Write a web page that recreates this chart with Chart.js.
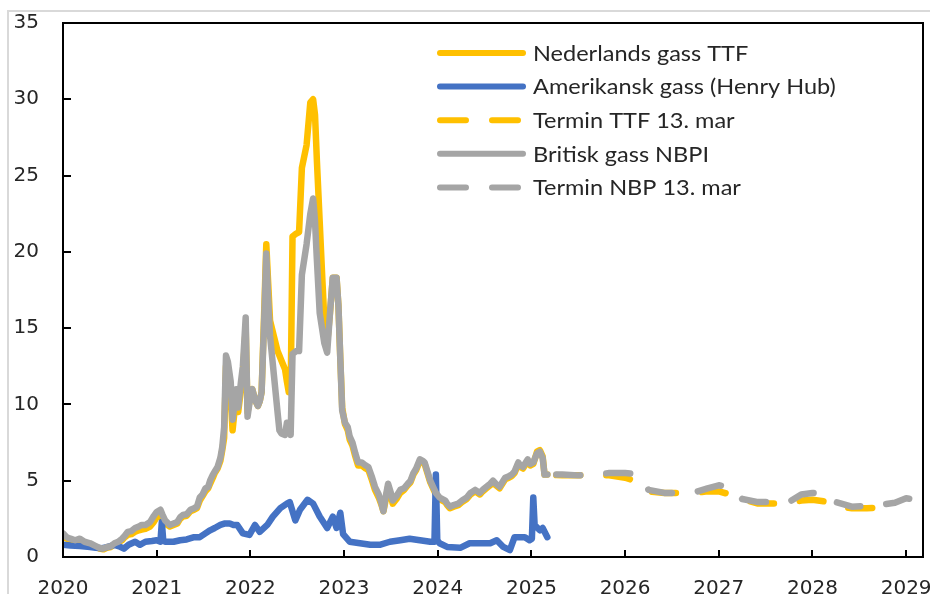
<!DOCTYPE html>
<html>
<head>
<meta charset="utf-8">
<script src="https://cdn.jsdelivr.net/npm/chart.js@4/dist/chart.umd.min.js"></script>
<style>
  html, body { margin: 0; padding: 0; background: #fff; }
  #wrap { position: relative; width: 930px; height: 594px; overflow: hidden; }
  #frame { position: absolute; left: 7px; top: 10px; width: 1000px; height: 1000px;
           border-left: 2px solid #d9d9d9; border-top: 2px solid #d9d9d9; }
  canvas { position: absolute; left: 0; top: 0; }
</style>
</head>
<body>
<div id="wrap">
  <div id="frame"></div>
  <canvas id="c" width="930" height="594"></canvas>
</div>
<script>
// ---- Data (decimal years) ----
const seriesNames = ["Nederlands gass TTF", "Amerikansk gass (Henry Hub)", "Termin TTF 13. mar", "Britisk gass NBPI", "Termin NBP 13. mar"];
const xTickYears = [2020, 2021, 2022, 2023, 2024, 2025, 2026, 2027, 2028, 2029];
const yTickValues = [0, 5, 10, 15, 20, 25, 30, 35];

const histDates = [
  2020.00, 2020.04, 2020.08, 2020.13, 2020.18, 2020.23, 2020.29, 2020.34, 2020.39, 2020.43,
  2020.47, 2020.51, 2020.55, 2020.59, 2020.63, 2020.66, 2020.69, 2020.73, 2020.77, 2020.81,
  2020.84, 2020.88, 2020.93, 2020.97, 2021.00, 2021.04, 2021.06, 2021.09, 2021.14, 2021.18,
  2021.22, 2021.25, 2021.28, 2021.32, 2021.36, 2021.40, 2021.43, 2021.46, 2021.49, 2021.52,
  2021.55, 2021.57, 2021.60, 2021.62, 2021.65, 2021.68, 2021.70, 2021.72, 2021.74, 2021.76,
  2021.79, 2021.81, 2021.83, 2021.85, 2021.87, 2021.90, 2021.92, 2021.95, 2021.97, 2022.00,
  2022.02, 2022.05, 2022.08, 2022.10, 2022.12, 2022.15, 2022.17, 2022.19, 2022.21, 2022.25,
  2022.29, 2022.31, 2022.33, 2022.37, 2022.39, 2022.41, 2022.43, 2022.45, 2022.49, 2022.52,
  2022.55, 2022.60, 2022.64, 2022.67, 2022.69, 2022.71, 2022.74, 2022.77, 2022.79, 2022.82,
  2022.85, 2022.88, 2022.92, 2022.94, 2022.96, 2022.98, 2023.01, 2023.04, 2023.06, 2023.09,
  2023.12, 2023.15, 2023.19, 2023.23, 2023.26, 2023.30, 2023.33, 2023.37, 2023.40, 2023.42,
  2023.44, 2023.47, 2023.50, 2023.52, 2023.56, 2023.60, 2023.64, 2023.68, 2023.71, 2023.74,
  2023.77, 2023.81, 2023.84, 2023.86, 2023.89, 2023.92, 2023.95, 2023.98, 2024.02, 2024.05,
  2024.08, 2024.10, 2024.13, 2024.17, 2024.22, 2024.26, 2024.31, 2024.35, 2024.40, 2024.45,
  2024.48, 2024.52, 2024.56, 2024.59, 2024.62, 2024.66, 2024.69, 2024.72, 2024.76, 2024.79,
  2024.82, 2024.86, 2024.88, 2024.91, 2024.94, 2024.96, 2024.99, 2025.02, 2025.06, 2025.09,
  2025.12, 2025.14, 2025.17
];
const nbpHist = [
  1.55, 1.3, 1.2, 1.1, 1.2, 1.0, 0.9, 0.75, 0.6, 0.55,
  0.66, 0.7, 0.9, 1.0, 1.2, 1.4, 1.65, 1.7, 1.9, 2.0,
  2.1, 2.1, 2.3, 2.7, 2.95, 3.1, 2.8, 2.4, 2.1, 2.2,
  2.3, 2.6, 2.75, 2.8, 3.1, 3.2, 3.3, 3.9, 4.1, 4.5,
  4.6, 5.0, 5.4, 5.6, 5.9, 6.5, 7.2, 8.5, 13.2, 12.8,
  11.5, 9.0, 10.0, 11.0, 9.8, 11.5, 12.5, 15.7, 9.2, 10.5,
  11.0, 10.3, 9.9, 10.2, 10.8, 16.0, 19.9, 17.0, 14.5, 12.0,
  9.5, 8.3, 8.1, 8.0, 8.8, 8.5, 8.0, 13.3, 13.5, 13.5,
  18.5, 20.5, 22.5, 23.5, 22.0, 19.5, 16.0, 14.8, 14.0, 13.4,
  16.0, 18.3, 18.3, 16.5, 13.0, 9.6, 8.8, 8.5, 7.9, 7.5,
  6.8, 6.2, 6.2, 6.0, 5.9, 5.2, 4.6, 4.1, 3.5, 3.0,
  3.8, 4.8, 4.2, 3.7, 4.0, 4.4, 4.5, 4.8, 5.0, 5.5,
  5.8, 6.4, 6.3, 6.2, 5.6, 5.0, 4.6, 4.2, 3.9, 3.8,
  3.7, 3.5, 3.3, 3.4, 3.5, 3.7, 3.9, 4.2, 4.4, 4.2,
  4.4, 4.6, 4.8, 5.0, 4.8, 4.6, 4.9, 5.2, 5.3, 5.4,
  5.6, 6.2, 6.0, 5.9, 6.2, 6.4, 6.1, 6.2, 6.8, 6.9,
  6.5, 5.4, 5.4
];
const ttfHist = [
  1.35, 1.2, 1.1, 1.0, 1.1, 0.9, 0.85, 0.7, 0.55, 0.5,
  0.6, 0.65, 0.85, 0.95, 1.1, 1.3, 1.45, 1.5, 1.65, 1.75,
  1.8, 1.85, 2.0, 2.3, 2.6, 2.7, 2.5, 2.2, 2.0, 2.1,
  2.2, 2.5, 2.65, 2.7, 3.0, 3.1, 3.2, 3.7, 4.0, 4.3,
  4.5, 4.8, 5.2, 5.5, 5.8, 6.3, 7.0, 7.8, 12.5, 12.0,
  10.5, 8.3, 9.5, 10.5, 9.5, 11.0, 12.0, 15.0, 9.5, 10.5,
  11.0, 10.3, 9.9, 10.2, 10.8, 16.5, 20.5, 18.0, 15.5, 14.5,
  13.5, 13.2, 12.9, 12.3, 11.5, 10.8, 10.8, 21.0, 21.2, 21.3,
  25.5, 27.0, 29.8, 30.0, 29.0, 26.0, 22.0, 18.0, 15.5, 14.0,
  16.0, 18.3, 18.3, 16.5, 13.0, 9.8, 8.7, 8.3, 7.7, 7.3,
  6.6, 6.0, 6.0, 5.8, 5.7, 5.0, 4.4, 3.9, 3.4, 3.0,
  3.6, 4.6, 4.0, 3.5, 3.8, 4.2, 4.4, 4.7, 4.9, 5.4,
  5.7, 6.3, 6.2, 6.1, 5.5, 4.9, 4.5, 4.1, 3.8, 3.7,
  3.6, 3.4, 3.2, 3.3, 3.4, 3.6, 3.8, 4.1, 4.3, 4.1,
  4.3, 4.5, 4.7, 4.9, 4.7, 4.5, 4.8, 5.1, 5.2, 5.3,
  5.5, 6.1, 5.9, 5.8, 6.1, 6.3, 6.0, 6.1, 6.9, 7.0,
  6.6, 5.4, 5.4
];

const hhDates = [
  2020.00, 2020.08, 2020.18, 2020.29, 2020.35, 2020.42, 2020.47, 2020.55, 2020.60, 2020.65,
  2020.70, 2020.77, 2020.82, 2020.88, 2020.95, 2021.00, 2021.04, 2021.055, 2021.07, 2021.09,
  2021.18, 2021.25, 2021.32, 2021.40, 2021.46, 2021.52, 2021.57, 2021.62, 2021.68, 2021.73,
  2021.78, 2021.82, 2021.86, 2021.92, 2021.99, 2022.05, 2022.10, 2022.18, 2022.24, 2022.32,
  2022.39, 2022.42, 2022.48, 2022.53, 2022.61, 2022.67, 2022.74, 2022.82, 2022.88, 2022.92,
  2022.96, 2022.99, 2023.06, 2023.17, 2023.28, 2023.38, 2023.49, 2023.60, 2023.70, 2023.81,
  2023.92, 2023.965, 2023.98, 2023.995, 2024.02, 2024.10, 2024.24, 2024.34, 2024.45, 2024.56,
  2024.63, 2024.70, 2024.77, 2024.82, 2024.93, 2024.98, 2025.005, 2025.02, 2025.035, 2025.05,
  2025.09, 2025.12, 2025.17
];
const hhValues = [
  0.8, 0.75, 0.72, 0.66, 0.6, 0.58, 0.65, 0.8, 0.7, 0.55,
  0.8, 1.0, 0.8, 1.0, 1.05, 1.1, 1.0, 2.3, 1.1, 1.0,
  1.0, 1.1, 1.15, 1.3, 1.3, 1.55, 1.75, 1.9, 2.1, 2.2,
  2.2, 2.1, 2.1, 1.55, 1.45, 2.1, 1.65, 2.1, 2.65, 3.2,
  3.5, 3.6, 2.4, 3.1, 3.75, 3.5, 2.65, 1.9, 2.65, 1.9,
  2.9, 1.5, 1.0, 0.9, 0.8, 0.8, 1.0, 1.1, 1.2, 1.1,
  1.0, 1.0, 5.4, 1.1, 0.9, 0.66, 0.6, 0.9, 0.9, 0.9,
  1.1, 0.66, 0.45, 1.3, 1.3, 1.1, 1.2, 3.9, 2.0, 2.0,
  1.75, 1.9, 1.3
];

const fwdDates = [
  2025.17, 2025.33, 2025.50, 2025.67, 2025.83, 2026.00, 2026.12, 2026.25, 2026.42, 2026.58,
  2026.75, 2026.88, 2027.00, 2027.12, 2027.25, 2027.42, 2027.58, 2027.75, 2027.88, 2028.00,
  2028.12, 2028.25, 2028.42, 2028.58, 2028.75, 2028.88, 2029.00, 2029.18
];
const nbpFwd = [
  5.4, 5.4, 5.35, 5.4, 5.5, 5.5, 5.45, 4.4, 4.2, 4.2,
  4.25, 4.5, 4.7, 4.55, 3.8, 3.6, 3.6, 3.6, 4.1, 4.2,
  4.15, 3.6, 3.3, 3.35, 3.45, 3.55, 3.85, 3.7
];
const ttfFwd = [
  5.4, 5.35, 5.35, 5.35, 5.35, 5.2, 4.95, 4.3, 4.2, 4.2,
  4.2, 4.3, 4.3, 4.1, 3.8, 3.5, 3.5, 3.5, 3.7, 3.75,
  3.65, 3.3, 3.2, 3.2, 3.25, 3.35
];

const colTTF = "#FFC000", colHH = "#4472C4", colNBP = "#A5A5A5";
const textCol = "#262626";

function pts(xs, ys) { return ys.map((y, i) => ({ x: xs[i], y: y })); }

const DASH = [24, 26];
const DASH_OFFSET = 41;
const LW = 6.5;

const base = { pointRadius: 0, borderWidth: LW, tension: 0, borderJoinStyle: "round", borderCapStyle: "round", fill: false };

const frameAndTicks = {
  id: "frameAndTicks",
  afterDatasetsDraw(chart) {
    const ctx = chart.ctx, a = chart.chartArea;
    const xs = chart.scales.x, ys = chart.scales.y;
    ctx.save();
    ctx.strokeStyle = "#000";
    ctx.lineWidth = 2;
    ctx.strokeRect(a.left, a.top, a.right - a.left, a.bottom - a.top);
    ctx.beginPath();
    xTickYears.forEach(v => {
      const px = Math.round(xs.getPixelForValue(v));
      ctx.moveTo(px, a.bottom); ctx.lineTo(px, a.bottom - 7);
    });
    yTickValues.forEach(v => {
      const py = Math.round(ys.getPixelForValue(v));
      ctx.moveTo(a.left, py); ctx.lineTo(a.left + 8, py);
    });
    ctx.stroke();

    // legend
    const items = [
      { label: seriesNames[0], color: colTTF, dash: false },
      { label: seriesNames[1], color: colHH, dash: false },
      { label: seriesNames[2], color: colTTF, dash: true },
      { label: seriesNames[3], color: colNBP, dash: false },
      { label: seriesNames[4], color: colNBP, dash: true }
    ];
    const lx0 = 440, lx1 = 523, tx = 533, y0 = 53, dy = 33.6;
    ctx.textBaseline = "middle";
    ctx.textAlign = "left";
    items.forEach((it, i) => {
      const y = y0 + i * dy;
      ctx.beginPath();
      ctx.strokeStyle = it.color;
      ctx.lineWidth = 6;
      ctx.lineCap = "round";
      ctx.setLineDash(it.dash ? [26, 26] : []);
      ctx.moveTo(lx0, y); ctx.lineTo(lx1, y);
      ctx.stroke();
      ctx.setLineDash([]);
      ctx.save();
      ctx.translate(tx, y + 1);
      ctx.scale(1.12, 1);
      ctx.font = "21px Lato";
      ctx.fillStyle = textCol;
      ctx.fillText(it.label, 0, 0);
      ctx.restore();
    });
    ctx.restore();
  }
};

new Chart(document.getElementById("c"), {
  type: "line",
  data: {
    datasets: [
      Object.assign({ label: seriesNames[3], data: pts(histDates, nbpHist), borderColor: colNBP, order: 1 }, base),
      Object.assign({ label: seriesNames[4], data: pts(fwdDates, nbpFwd), borderColor: colNBP, borderDash: DASH, borderDashOffset: DASH_OFFSET, order: 2 }, base),
      Object.assign({ label: seriesNames[1], data: pts(hhDates, hhValues), borderColor: colHH, order: 3 }, base),
      Object.assign({ label: seriesNames[0], data: pts(histDates, ttfHist), borderColor: colTTF, order: 4 }, base),
      Object.assign({ label: seriesNames[2], data: pts(fwdDates, ttfFwd), borderColor: colTTF, borderDash: DASH, borderDashOffset: DASH_OFFSET, order: 5 }, base)
    ]
  },
  options: {
    responsive: false,
    devicePixelRatio: 1,
    animation: false,
    layout: { padding: { top: 23, right: 7, left: 0, bottom: 0 } },
    plugins: { legend: { display: false }, tooltip: { enabled: false } },
    scales: {
      x: {
        type: "linear",
        min: 2020, max: 2029.18,
        grid: { display: true, drawOnChartArea: false, drawTicks: false },
        border: { display: false },
        afterBuildTicks(s) { s.ticks = xTickYears.map(v => ({ value: v })); },
        afterFit(s) { s.height = 37; s.paddingLeft = 0; s.paddingRight = 0; },
        ticks: { padding: 20, color: textCol, font: { family: "DejaVu Sans", size: 20 }, maxRotation: 0, autoSkip: false,
                 callback: v => String(v) }
      },
      y: {
        min: 0, max: 35,
        grid: { display: true, drawOnChartArea: false, drawTicks: false },
        border: { display: false },
        afterBuildTicks(s) { s.ticks = yTickValues.map(v => ({ value: v })); },
        afterFit(s) { s.width = 63; s.paddingTop = 0; s.paddingBottom = 0; },
        ticks: { padding: 24, color: textCol, font: { family: "DejaVu Sans", size: 20 }, callback: v => String(v) }
      }
    }
  },
  plugins: [frameAndTicks]
});
</script>
</body>
</html>
